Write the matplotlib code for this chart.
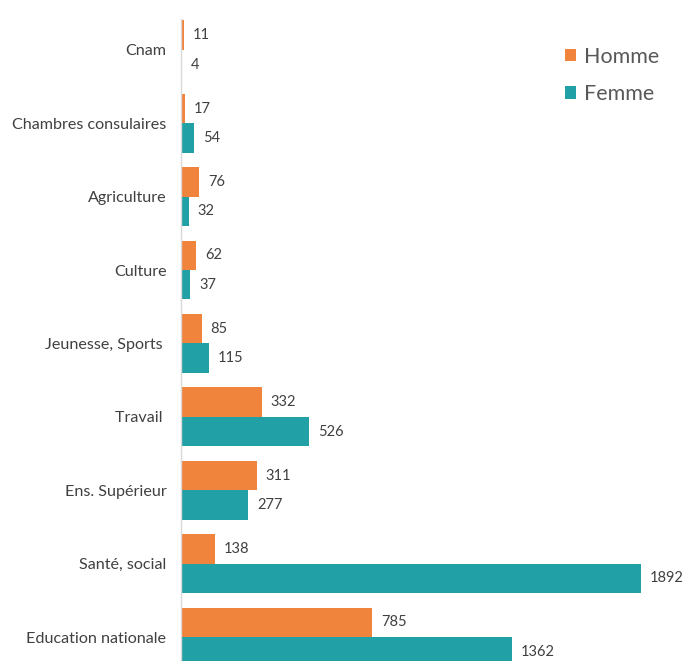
import matplotlib.pyplot as plt
import numpy as np

categories = ["Cnam", "Chambres consulaires", "Agriculture", "Culture",
              "Jeunesse, Sports ", "Travail ", "Ens. Supérieur",
              "Santé, social", "Education nationale"]
homme = [11, 17, 76, 62, 85, 332, 311, 138, 785]
femme = [4, 54, 32, 37, 115, 526, 277, 1892, 1362]

orange = "#F0843C"
teal = "#21A0A6"
txt = "#404040"

plt.rcParams['font.family'] = ['Lato', 'DejaVu Sans']

fig = plt.figure(figsize=(6.85, 6.61), dpi=100)
ax = fig.add_axes([181 / 685, -1 / 661, 486 / 685, 643 / 661])

y = np.arange(len(categories))
h = 0.4
ax.barh(y - h / 2, homme, height=h, color=orange, label="Homme")
ax.barh(y + h / 2, femme, height=h, color=teal, label="Femme")

# value labels at the end of each bar
for yi, v in zip(y, homme):
    ax.annotate(str(v), (v, yi - h / 2), xytext=(6.5, 0), textcoords="offset points",
                va="center", ha="left", fontsize=10.5, color=txt)
for yi, v in zip(y, femme):
    ax.annotate(str(v), (v, yi + h / 2), xytext=(6.5, 0), textcoords="offset points",
                va="center", ha="left", fontsize=10.5, color=txt)

ax.set_xlim(0, 2000)
ax.set_ylim(8.34, -0.42)
ax.set_yticks(y)
ax.set_yticklabels(categories, fontsize=11.6, color=txt)
ax.tick_params(axis="y", length=0, pad=10.5)
ax.set_xticks([])
for s in ["top", "right", "bottom"]:
    ax.spines[s].set_visible(False)
ax.spines["left"].set_color("#D9D9D9")
ax.spines["left"].set_linewidth(1)

leg = fig.legend(loc="upper left", bbox_to_anchor=(565 / 685, 1 - 47 / 661), frameon=False,
                 fontsize=15.5, handlelength=0.5, handleheight=0.5, handletextpad=0.4,
                 labelspacing=0.8, labelcolor="#595959", borderpad=0, borderaxespad=0)

fig.savefig("out.png", dpi=100)
